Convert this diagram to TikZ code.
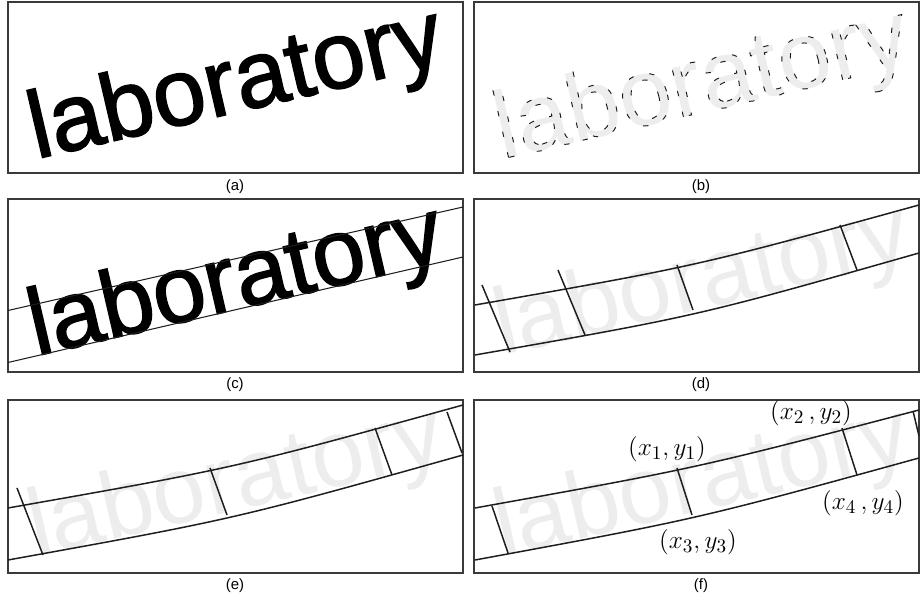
\documentclass[tikz,border=0pt]{standalone}
\usepackage{fontspec}
\setmainfont{Liberation Serif}
\setsansfont{Liberation Sans}
\newfontfamily\wordfont{Liberation Sans}[FakeBold=1.6]
\newfontfamily\edgefont{Liberation Sans}[FakeBold=1.0]
\usetikzlibrary{positioning}
\definecolor{frame}{HTML}{3A3A3A}
\definecolor{ghost}{HTML}{EDEDED}
\definecolor{edge}{HTML}{1E1E1E}
\newcommand{\edgeword}{\edgefont\special{pdf:code [3 9] 0 d 0.1 0.1 0.1 RG}laboratory\special{pdf:code [] 0 d}}

\begin{document}
\begin{tikzpicture}[x=0.2mm,y=-0.2mm,
  panel/.style={draw=frame,line width=1.1pt},
  subcap/.style={font=\sffamily\fontsize{8.5}{10}\selectfont,inner sep=0pt},
  word/.style={font=\wordfont\fontsize{54}{60}\selectfont,anchor=base west,rotate=13.1,inner sep=0pt},
  faint/.style={word,font=\sffamily\fontsize{54}{60}\selectfont,text=ghost},
  band/.style={draw=edge,line width=0.85pt},
  corner/.style={font=\fontsize{15}{17}\selectfont,inner sep=1pt}]
  \useasboundingbox (0,0) rectangle (920,603);
  % panel frames
  \draw[panel] (8,2) rectangle (463,173);
  \draw[panel] (474,2) rectangle (919,173);
  \draw[panel] (8,199) rectangle (463,372);
  \draw[panel] (474,199) rectangle (919,372);
  \draw[panel] (8,400) rectangle (463,573);
  \draw[panel] (474,400) rectangle (919,573);
  % captions
  \node[subcap] (la) at (235,187) {(a)};
  \node[subcap] (lb) at (701,187) {(b)};
  \node[subcap] (lc) at (235,385) {(c)};
  \node[subcap] (ld) at (701,385) {(d)};
  \node[subcap] (le) at (235,586) {(e)};
  \node[subcap] (lf) at (701,586) {(f)};
  % (a) original word
  \node[word] (wa) at (36,159) {laboratory};
  % (b) edges
  \node[faint] (wb) at (502,159) {\edgeword};
  % (c) base and x-height lines
  \node[word] (wc) at (36,356) {laboratory};
  \draw[band,line width=0.6pt] (8,310.5) -- (463,207);
  \draw[band,line width=0.6pt] (8,362.5) -- (463,257);
  % (d) curved band with cuts
  \node[faint] (wd) at (502,356) {laboratory};
  \draw[band] (475,305) .. controls (697.5,266) .. (919,205);
  \draw[band] (475,355) .. controls (697.5,316) .. (919,253);
  \draw[band] (482,285) -- (510,352);
  \draw[band] (558,270) -- (585,335);
  \draw[band] (677,265) -- (693,310);
  \draw[band] (840,225) -- (857,270);
  % (e) merged cuts
  \node[faint] (we) at (36,557) {laboratory};
  \draw[band] (8,508) .. controls (235,468) .. (463,405);
  \draw[band] (8,560) .. controls (235,519) .. (463,455);
  \draw[band] (17,488) -- (43,555);
  \draw[band] (210,468) -- (227,515);
  \draw[band] (375,428) -- (392,475);
  \draw[band] (447,412) -- (462,453);
  % (f) corner points
  \node[faint] (wf) at (502,557) {laboratory};
  \coordinate (c1) at (677,468);
  \coordinate (c3) at (692,515);
  \coordinate (c2) at (842,428);
  \coordinate (c4) at (857,475);
  \draw[band] (475,508) .. controls (697.5,468) .. (919,410);
  \draw[band] (475,560) .. controls (697.5,519) .. (919,458);
  \draw[band] (492,506) -- (508,553);
  \draw[band] (c1) -- (c3);
  \draw[band] (c2) -- (c4);
  \draw[band] (913,411) -- (919,436);
  \node[corner] (p1) at (667,449) {$(x_1,y_1)$};
  \node[corner] (p2) at (811,413) {$(x_2\,,y_2)$};
  \node[corner] (p3) at (698,542) {$(x_3,y_3)$};
  \node[corner] (p4) at (863,503) {$(x_4\,,y_4)$};
\end{tikzpicture}
\end{document}
